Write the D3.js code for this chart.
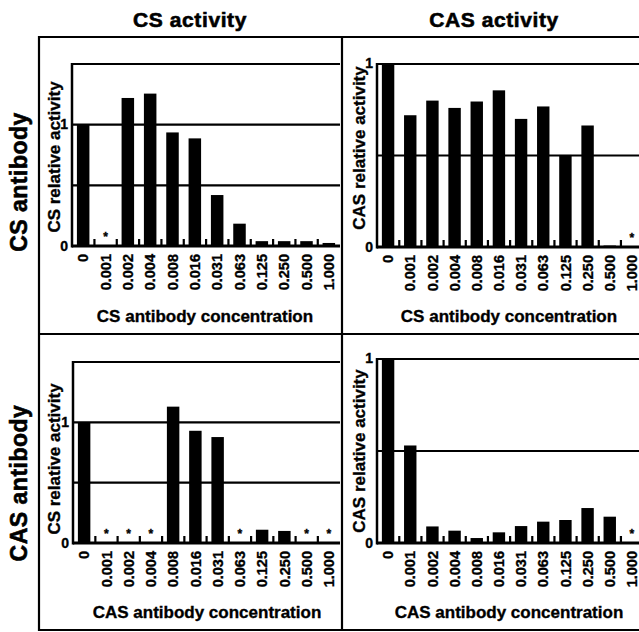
<!DOCTYPE html>
<html>
<head>
<meta charset="utf-8">
<script src="https://cdn.jsdelivr.net/npm/d3@7"></script>
<style>
  html, body { margin: 0; padding: 0; background: #fff; }
  svg { display: block; font-family: "Liberation Sans", Arial, sans-serif; font-weight: bold; }
  svg text { stroke: #000; stroke-width: 0.35px; }
  svg text.big { stroke-width: 0.6px; }
</style>
</head>
<body>
<div id="svg-container"></div>
<script>
// data
const concentrations = ["0", "0.001", "0.002", "0.004", "0.008", "0.016", "0.031", "0.063", "0.125", "0.250", "0.500", "1.000"];

const csAbCsActivity = [1.0, 0, 1.22, 1.256, 0.936, 0.887, 0.42, 0.184, 0.04, 0.04, 0.04, 0.025];
const csAbCasActivity = [1.0, 0.72, 0.8, 0.76, 0.795, 0.856, 0.7, 0.768, 0.503, 0.664, 0.008, 0];
const casAbCsActivity = [1.0, 0, 0, 0, 1.13, 0.93, 0.878, 0, 0.11, 0.1, 0, 0];
const casAbCasActivity = [1.0, 0.53, 0.09, 0.067, 0.027, 0.058, 0.092, 0.116, 0.125, 0.19, 0.143, 0];

// "*" = not detected
const csAbCsStars = ["0.001"];
const csAbCasStars = ["1.000"];
const casAbCsStars = ["0.001", "0.002", "0.004", "0.063", "0.500", "1.000"];
const casAbCasStars = ["1.000"];

const columnTitles = ["CS activity", "CAS activity"];
const rowTitles = ["CS antibody", "CAS antibody"];

////////////////////////////////////////////////////////////////////
const width = 639, height = 632;
const svg = d3.select("#svg-container").append("svg")
  .attr("width", width).attr("height", height);

const panels = [
  { values: csAbCsActivity, stars: csAbCsStars, yMax: 1.5, ylab: "CS relative activity", xlab: "CS antibody concentration",
    x0: 72, x1: 340, top: 64, base: 246, ylabY: 157, ylabX: 60, xlabX: 205, xlabY: 322, clipR: 341 },
  { values: csAbCasActivity, stars: csAbCasStars, yMax: 1, ylab: "CAS relative activity", xlab: "CS antibody concentration",
    x0: 377, x1: 643, top: 64, base: 247, ylabY: 148, ylabX: 365, xlabX: 509, xlabY: 322, clipR: 639 },
  { values: casAbCsActivity, stars: casAbCsStars, yMax: 1.5, ylab: "CS relative activity", xlab: "CAS antibody concentration",
    x0: 73, x1: 340, top: 362, base: 543, ylabY: 459, ylabX: 60, xlabX: 207, xlabY: 618, clipR: 341 },
  { values: casAbCasActivity, stars: casAbCasStars, yMax: 1, ylab: "CAS relative activity", xlab: "CAS antibody concentration",
    x0: 377, x1: 643, top: 359, base: 543, ylabY: 451, ylabX: 365, xlabX: 509, xlabY: 618, clipR: 639 }
];

panels.forEach((p, i) => {
  const xScale = d3.scaleBand().domain(concentrations).range([p.x0, p.x1]).paddingInner(0.44).paddingOuter(0.22);
  const yScale = d3.scaleLinear().domain([0, p.yMax]).range([p.base, p.top]);
  const step = xScale.step();

  svg.append("clipPath").attr("id", "clip" + i)
    .append("rect").attr("x", p.x0 - 2).attr("y", p.top - 3).attr("width", p.clipR - p.x0 + 2).attr("height", p.base - p.top + 6);

  const g = svg.append("g").attr("clip-path", `url(#clip${i})`);

  // gridlines incl. top line
  const grid = d3.range(0.5, p.yMax + 0.01, 0.5);
  g.selectAll(".grid").data(grid).join("line")
    .attr("x1", p.x0).attr("x2", p.x1)
    .attr("y1", (d) => yScale(d)).attr("y2", (d) => yScale(d))
    .attr("stroke", "#000").attr("stroke-width", 2.2);

  // bars
  g.selectAll(".bar").data(p.values).join("rect")
    .attr("x", (d, j) => xScale(concentrations[j]))
    .attr("width", xScale.bandwidth())
    .attr("y", (d) => yScale(d))
    .attr("height", (d) => p.base - yScale(d))
    .attr("fill", "#000");

  // small ticks between bars
  g.selectAll(".tk").data(concentrations.slice(1)).join("rect")
    .attr("x", (d) => xScale(d) - (step - xScale.bandwidth()) / 2 - 1)
    .attr("y", p.base - 7).attr("width", 2.2).attr("height", 7)
    .attr("fill", "#000");

  // asterisks
  g.selectAll(".star").data(p.stars).join("text")
    .attr("x", (d) => xScale(d) + xScale.bandwidth() / 2)
    .attr("y", p.base - 5)
    .attr("text-anchor", "middle")
    .attr("font-size", 12)
    .text("*");

  // baseline + y axis line
  g.append("line").attr("x1", p.x0).attr("x2", p.x1).attr("y1", p.base).attr("y2", p.base)
    .attr("stroke", "#000").attr("stroke-width", 3);
  svg.append("line").attr("x1", p.x0).attr("x2", p.x0).attr("y1", p.top - 1).attr("y2", p.base + 1.5)
    .attr("stroke", "#000").attr("stroke-width", 2.5);

  // y tick labels
  svg.selectAll(null).data([0, 1]).join("text")
    .attr("x", p.x0 - 4)
    .attr("y", (d) => yScale(d))
    .attr("dy", (d) => (d === 0 ? "0.35em" : "0.3em"))
    .attr("text-anchor", "end")
    .attr("font-size", 14)
    .text((d) => d);

  // x tick labels (rotated)
  svg.selectAll(null).data(concentrations).join("text")
    .attr("transform", (d) => `translate(${xScale(d) + xScale.bandwidth() / 2},${p.base + 8}) rotate(-90)`)
    .attr("dy", "0.36em")
    .attr("text-anchor", "end")
    .attr("font-size", 14.5)
    .text((d) => d);

  // axis titles
  svg.append("text")
    .attr("transform", `translate(${p.ylabX},${p.ylabY}) rotate(-90)`)
    .attr("text-anchor", "middle")
    .attr("font-size", 17)
    .text(p.ylab);

  svg.append("text")
    .attr("x", p.xlabX).attr("y", p.xlabY)
    .attr("text-anchor", "middle")
    .attr("font-size", 17)
    .text(p.xlab);
});

// outer frame
const frame = svg.append("g").attr("stroke", "#000").attr("stroke-width", 2.2);
frame.append("line").attr("x1", 39).attr("x2", 639).attr("y1", 37).attr("y2", 37);
frame.append("line").attr("x1", 39).attr("x2", 639).attr("y1", 334).attr("y2", 334);
frame.append("line").attr("x1", 39).attr("x2", 639).attr("y1", 630).attr("y2", 630);
frame.append("line").attr("x1", 39).attr("x2", 39).attr("y1", 36).attr("y2", 631);
frame.append("line").attr("x1", 342).attr("x2", 342).attr("y1", 36).attr("y2", 631);

// column & row titles
svg.selectAll(".coltitle").data(columnTitles).join("text")
  .attr("class", "big")
  .attr("x", (d, i) => [190, 494][i])
  .attr("y", 27)
  .attr("text-anchor", "middle")
  .attr("font-size", 21)
  .attr("letter-spacing", 0.6)
  .text((d) => d);

svg.selectAll(".rowtitle").data(rowTitles).join("text")
  .attr("class", "big")
  .attr("transform", (d, i) => `translate(27,${[182, 483][i]}) rotate(-90)`)
  .attr("text-anchor", "middle")
  .attr("font-size", 23)
  .attr("letter-spacing", 0.5)
  .text((d) => d);
</script>
</body>
</html>
